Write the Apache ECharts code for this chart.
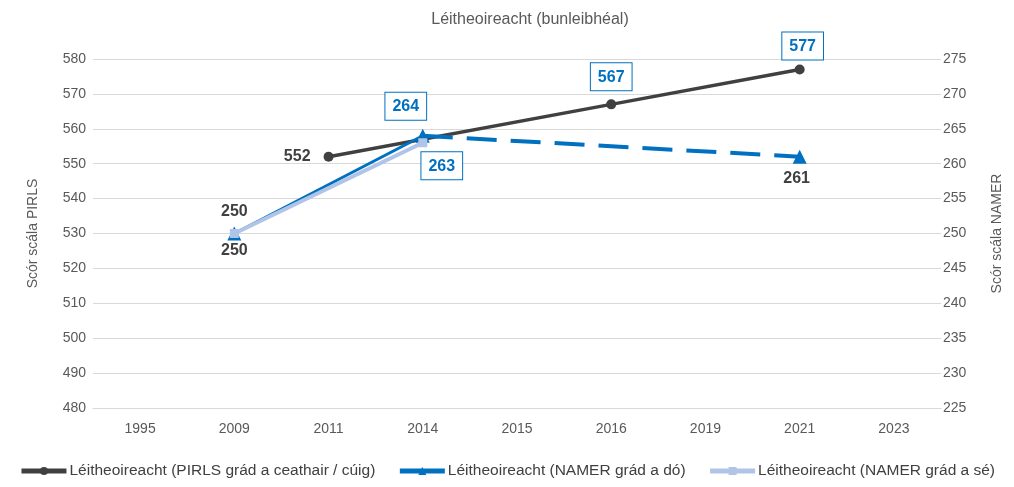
<!DOCTYPE html>
<html>
<head>
<meta charset="utf-8">
<script src="https://cdn.jsdelivr.net/npm/echarts@6/dist/echarts.min.js"></script>
<style>
    html, body { margin: 0; padding: 0; background: #ffffff; }
    #id-div-chart { width: 1014px; height: 487px; }
</style>
</head>
<body>
<div id="id-div-chart"></div>
<script>
var log = console.log.bind(console)

var e = (selector) => document.querySelector(selector)

// 数据
var years = ['1995', '2009', '2011', '2014', '2015', '2016', '2019', '2021', '2023']
var pirls = [null, null, 552, null, null, 567, null, 577, null]
var namerDo = [null, 250, null, 264, null, null, null, null, null]
var namerDoLater = [null, null, null, 264, null, null, null, 261, null]
var namerSe = [null, 250, null, 263, null, null, null, null, null]
var leftTicks = [480, 580, 10]
var rightTicks = [225, 275, 5]

var namePirls = 'Léitheoireacht (PIRLS grád a ceathair / cúig)'
var nameDo = 'Léitheoireacht (NAMER grád a dó)'
var nameSe = 'Léitheoireacht (NAMER grád a sé)'

var font = 'Liberation Sans, Arial, sans-serif'
var dark = '#404040'
var blue = '#0070C0'
var lightBlue = '#B0C4E8'

var boxLabel = function(position, offset) {
    return {
        show: true,
        position: position,
        offset: offset,
        color: blue,
        fontFamily: font,
        fontWeight: 'bold',
        fontSize: 16,
        backgroundColor: '#ffffff',
        borderColor: blue,
        borderWidth: 1,
        padding: [6, 7, 5, 7],
    }
}

var plainLabel = function(position, offset) {
    return {
        show: true,
        position: position,
        offset: offset || [0, 0],
        color: dark,
        fontFamily: font,
        fontWeight: 'bold',
        fontSize: 16,
    }
}

// 给某些点单独设置标签
var withLabels = function(values, labels) {
    var list = []
    for (var i = 0; i < values.length; i++) {
        var v = values[i]
        if (v == null) {
            list.push(null)
        } else if (labels[i] != undefined) {
            list.push({value: v, label: labels[i]})
        } else {
            list.push(v)
        }
    }
    return list
}

var configuredChart = function() {
    var element = e('#id-div-chart')
    var chart = echarts.init(element)
    return chart
}

var formattedOption = function() {
    var pirlsData = withLabels(pirls, {
        2: plainLabel('left', [-8, 0]),
        5: boxLabel('top', [0, -4]),
        7: boxLabel('top', [3, 0]),
    })
    var doData = withLabels(namerDo, {
        1: plainLabel('top', [0, -2]),
        3: boxLabel('top', [-17, -4]),
    })
    var doLaterData = withLabels(namerDoLater, {
        7: plainLabel('bottom', [-3, 2]),
    })
    doLaterData[3] = {value: namerDoLater[3], symbol: 'none'}
    var seData = withLabels(namerSe, {
        1: plainLabel('bottom', [0, 0]),
        3: boxLabel('bottom', [19, 0]),
    })

    var option = {
        animation: false,
        title: {
            text: 'Léitheoireacht (bunleibhéal)',
            left: 525,
            textAlign: 'center',
            top: 7,
            textStyle: {
                color: '#595959',
                fontFamily: font,
                fontWeight: 'normal',
                fontSize: 16,
            },
        },
        legend: {
            data: [namePirls, nameDo, nameSe],
            left: 'center',
            width: 1014,
            padding: 0,
            top: 463,
            itemWidth: 45,
            itemHeight: 10,
            itemGap: 22,
            lineStyle: { width: 5, type: 'solid' },
            textStyle: {
                color: dark,
                fontFamily: font,
                fontSize: 15.5,
                padding: [0, 0, 0, -2],
            },
        },
        grid: {
            left: 93,
            right: 73,
            top: 59,
            bottom: 79,
        },
        xAxis: {
            type: 'category',
            data: years,
            boundaryGap: true,
            axisLine: { lineStyle: { color: '#d9d9d9', width: 1 } },
            axisTick: { show: false },
            axisLabel: {
                color: '#595959',
                fontFamily: font,
                fontSize: 14,
                margin: 14,
            },
        },
        yAxis: [
            {
                type: 'value',
                name: 'Scór scála PIRLS',
                nameLocation: 'middle',
                nameGap: 53,
                nameTextStyle: { color: '#595959', fontFamily: font, fontSize: 14 },
                min: leftTicks[0],
                max: leftTicks[1],
                interval: leftTicks[2],
                axisLine: { show: false },
                axisTick: { show: false },
                axisLabel: { color: '#595959', fontFamily: font, fontSize: 14, margin: 7 },
                splitLine: { lineStyle: { color: '#d9d9d9', width: 1 } },
            },
            {
                type: 'value',
                name: 'Scór scála NAMER',
                nameLocation: 'middle',
                nameGap: 49,
                nameTextStyle: { color: '#595959', fontFamily: font, fontSize: 14 },
                position: 'right',
                min: rightTicks[0],
                max: rightTicks[1],
                interval: rightTicks[2],
                axisLine: { show: false },
                axisTick: { show: false },
                axisLabel: { color: '#595959', fontFamily: font, fontSize: 14, margin: 2 },
                splitLine: { show: false },
            },
        ],
        series: [
            {
                name: namePirls,
                type: 'line',
                yAxisIndex: 0,
                data: pirlsData,
                connectNulls: true,
                symbol: 'circle',
                symbolSize: 10,
                itemStyle: { color: dark },
                lineStyle: { color: dark, width: 3.5 },
                z: 2,
            },
            {
                name: nameDo,
                type: 'line',
                yAxisIndex: 1,
                data: doData,
                connectNulls: true,
                symbol: 'triangle',
                symbolSize: 14,
                itemStyle: { color: blue },
                lineStyle: { color: blue, width: 3 },
                z: 4,
            },
            {
                name: nameDo,
                type: 'line',
                yAxisIndex: 1,
                data: doLaterData,
                connectNulls: true,
                symbol: 'triangle',
                symbolSize: 14,
                itemStyle: { color: blue },
                lineStyle: { color: blue, width: 4, type: [30, 14] },
                z: 3,
            },
            {
                name: nameSe,
                type: 'line',
                yAxisIndex: 1,
                data: seData,
                connectNulls: true,
                symbol: 'rect',
                symbolSize: 9,
                itemStyle: { color: lightBlue },
                lineStyle: { color: lightBlue, width: 4 },
                z: 5,
            },
        ],
    }
    return option
}

var renderChart = function() {
    var chart = configuredChart()
    var option = formattedOption()
    chart.setOption(option)
}

var __main = function() {
    renderChart()
}

__main()
</script>
</body>
</html>
